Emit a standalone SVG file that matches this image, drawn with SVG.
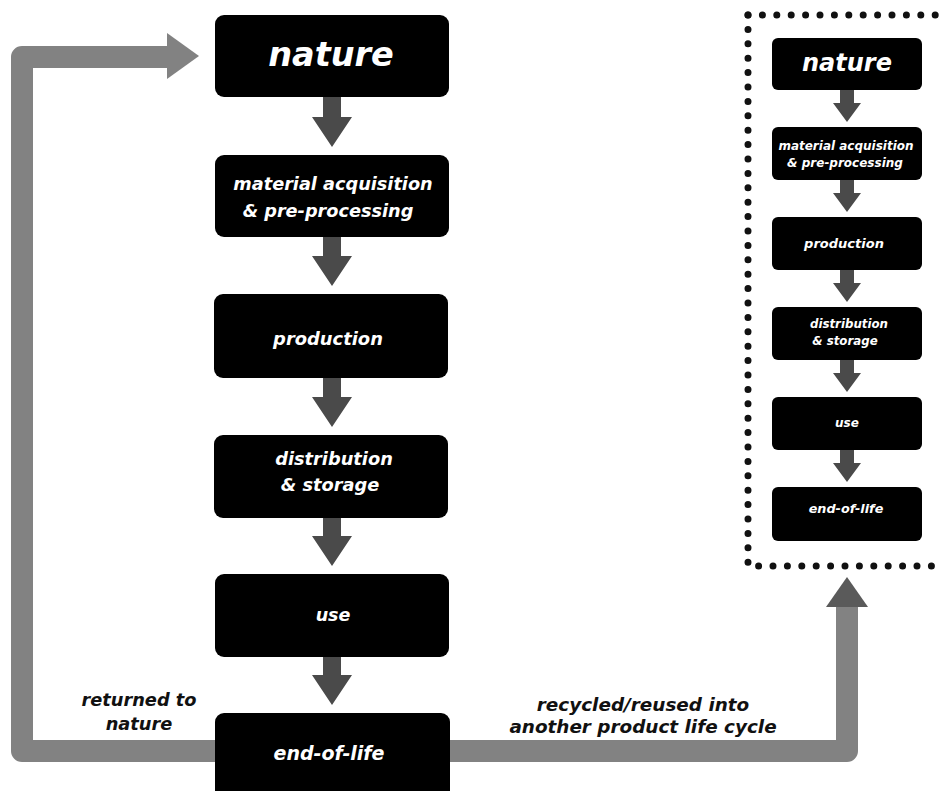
<svg xmlns="http://www.w3.org/2000/svg" width="939" height="791" viewBox="0 0 939 791">
<style>
.box{fill:#000}
.t{font-family:"DejaVu Sans","Liberation Sans",sans-serif;font-weight:700;font-style:italic;fill:#fff;text-anchor:middle}
.lbl{font-family:"DejaVu Sans","Liberation Sans",sans-serif;font-weight:700;font-style:italic;fill:#111;text-anchor:middle}
.arr{fill:#4a4a4a}
.loop{fill:none;stroke:#828282;stroke-width:22;stroke-linejoin:round}
.dots{fill:none;stroke:#111;stroke-width:7;stroke-linecap:round;stroke-dasharray:0 14.4}
</style>
<rect width="939" height="791" fill="#fff"/>
<g id="connectors">
  <path class="loop" d="M215 751 H22 V57 H172"/>
  <polygon fill="#828282" points="167,33 199,56 167,79"/>
  <path class="loop" d="M449 751 H847 V604"/>
  <polygon fill="#5a5a5a" points="826,607 847,577 868,607"/>
  <g class="arr">
    <polygon points="323,97 341,97 341,117 352,117 332,147 312,117 323,117"/>
    <polygon points="323,237 341,237 341,256 352,256 332,286 312,256 323,256"/>
    <polygon points="323,378 341,378 341,397 352,397 332,427 312,397 323,397"/>
    <polygon points="323,518 341,518 341,536 352,536 332,566 312,536 323,536"/>
    <polygon points="323,657 341,657 341,675 352,675 332,705 312,675 323,675"/>
    <polygon points="840,90 854,90 854,103 861,103 847,122 833,103 840,103"/>
    <polygon points="840,180 854,180 854,193 861,193 847,212 833,193 840,193"/>
    <polygon points="840,270 854,270 854,283 861,283 847,302 833,283 840,283"/>
    <polygon points="840,360 854,360 854,373 861,373 847,392 833,373 840,373"/>
    <polygon points="840,450 854,450 854,463 861,463 847,482 833,463 840,463"/>
  </g>
</g>
<g id="frame">
  <path class="dots" d="M748 15 H940"/>
  <path class="dots" d="M748 15 V566 H940"/>
</g>
<g id="nature">
  <rect class="box" x="215" y="15" width="234" height="82" rx="9"/>
  <text class="t" x="331" y="66" font-size="33.5">nature</text>
</g>
<g id="material">
  <rect class="box" x="215" y="155" width="234" height="82" rx="9"/>
  <text class="t" x="333" y="190" font-size="17.7">material acquisition</text>
  <text class="t" x="328" y="217" font-size="17.7">&amp; pre-processing</text>
</g>
<g id="production">
  <rect class="box" x="214" y="294" width="234" height="84" rx="9"/>
  <text class="t" x="328" y="345" font-size="17.9">production</text>
</g>
<g id="distribution">
  <rect class="box" x="214" y="435" width="234" height="83" rx="9"/>
  <text class="t" x="334" y="465" font-size="17.8">distribution</text>
  <text class="t" x="330" y="491" font-size="17.8">&amp; storage</text>
</g>
<g id="use">
  <rect class="box" x="215" y="574" width="234" height="83" rx="9"/>
  <text class="t" x="333" y="621" font-size="17.5">use</text>
</g>
<g id="end-of-life">
  <rect class="box" x="215" y="713" width="235" height="95" rx="9"/>
  <text class="t" x="329" y="760" font-size="19">end-of-life</text>
</g>
<g id="label-returned">
  <text class="lbl" x="139" y="706" font-size="17.8">returned to</text>
  <text class="lbl" x="139" y="730" font-size="17.8">nature</text>
</g>
<g id="label-recycled">
  <text class="lbl" x="643" y="711" font-size="18.4">recycled/reused into</text>
  <text class="lbl" x="643" y="733" font-size="18.4">another product life cycle</text>
</g>
<g id="s-nature">
  <rect class="box" x="772" y="38" width="150" height="52" rx="6"/>
  <text class="t" x="847" y="71" font-size="24">nature</text>
</g>
<g id="s-material">
  <rect class="box" x="772" y="127" width="150" height="53" rx="6"/>
  <text class="t" x="846" y="150" font-size="12">material acquisition</text>
  <text class="t" x="845" y="167" font-size="12">&amp; pre-processing</text>
</g>
<g id="s-production">
  <rect class="box" x="772" y="217" width="150" height="53" rx="6"/>
  <text class="t" x="844" y="248" font-size="13">production</text>
</g>
<g id="s-distribution">
  <rect class="box" x="772" y="307" width="150" height="53" rx="6"/>
  <text class="t" x="849" y="328" font-size="11.8">distribution</text>
  <text class="t" x="845" y="345" font-size="11.8">&amp; storage</text>
</g>
<g id="s-use">
  <rect class="box" x="772" y="397" width="150" height="53" rx="6"/>
  <text class="t" x="847" y="427" font-size="12">use</text>
</g>
<g id="s-end-of-life">
  <rect class="box" x="772" y="487" width="150" height="54" rx="6"/>
  <text class="t" x="846" y="513" font-size="12.8">end-of-life</text>
</g>
</svg>
